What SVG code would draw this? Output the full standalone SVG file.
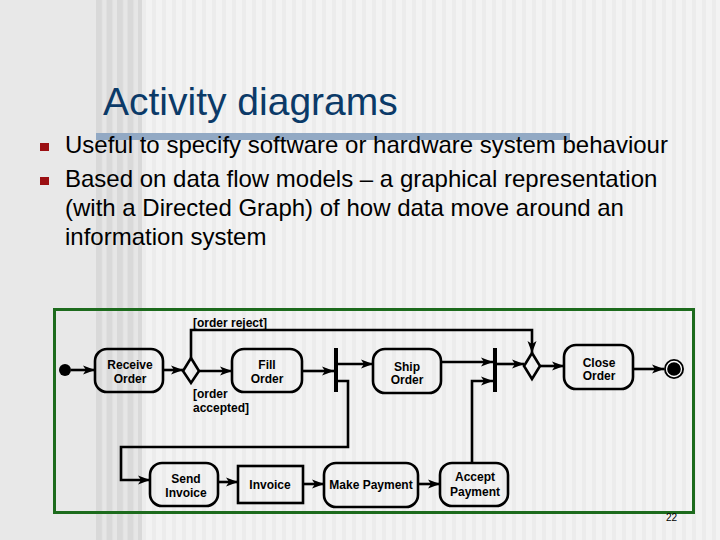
<svg xmlns="http://www.w3.org/2000/svg" width="720" height="540" viewBox="0 0 720 540">
<defs>
<pattern id="dark" x="96" y="0" width="10.5" height="10" patternUnits="userSpaceOnUse">
<rect width="10.5" height="10" fill="#e6e6e6"/>
<rect width="6" height="10" fill="#d9d9d9"/>
</pattern>
<pattern id="light" x="142" y="0" width="10" height="10" patternUnits="userSpaceOnUse">
<rect width="10" height="10" fill="#f3f3f3"/>
<rect width="4" height="10" fill="#ececec"/>
</pattern>
<marker id="ah" markerUnits="userSpaceOnUse" markerWidth="13" markerHeight="10" refX="12" refY="5" orient="auto">
<path d="M0,0.5 L12,5 L0,9.5 L3,5 z" fill="#000"/>
</marker>
<style>
.node{fill:none;stroke:#000;stroke-width:2.6}
.conn{fill:none;stroke:#000;stroke-width:2.6}
.lbl{font-family:"Liberation Sans",Arial,sans-serif;font-weight:bold;font-size:12px;fill:#000;text-anchor:middle}
.grd{font-family:"Liberation Sans",Arial,sans-serif;font-weight:bold;font-size:12px;fill:#000}
.bul{font-family:"Liberation Sans",Arial,sans-serif;font-size:24px;fill:#000}
</style>
</defs>
<rect width="720" height="540" fill="#e8e8e8"/>
<rect x="96" y="0" width="46" height="540" fill="url(#dark)"/>
<rect x="142" y="0" width="578" height="540" fill="url(#light)"/>

<text x="103" y="115" font-family="Liberation Sans, Arial, sans-serif" font-size="39" fill="#0b3a68">Activity diagrams</text>
<rect x="96" y="133" width="474" height="7" fill="#92a9c4"/>

<rect x="40" y="143" width="9" height="8" fill="#9b0f12"/>
<rect x="40" y="177" width="9" height="8" fill="#9b0f12"/>
<text class="bul" x="65" y="153">Useful to specify software or hardware system behaviour</text>
<text class="bul" x="65" y="187">Based on data flow models – a graphical representation</text>
<text class="bul" x="65" y="216">(with a Directed Graph) of how data move around an</text>
<text class="bul" x="65" y="245">information system</text>

<rect x="54.5" y="309.5" width="639" height="203" fill="none" stroke="#1d6b1d" stroke-width="3"/>

<g id="connectors">
<path class="conn" d="M71,370 H95" marker-end="url(#ah)"/>
<path class="conn" d="M163,370 H183" marker-end="url(#ah)"/>
<path class="conn" d="M199,371 H232" marker-end="url(#ah)"/>
<path class="conn" d="M302,371 H334" marker-end="url(#ah)"/>
<path class="conn" d="M338,364 H373" marker-end="url(#ah)"/>
<path class="conn" d="M338,381 H348 V447 H121 V480 H150" marker-end="url(#ah)"/>
<path class="conn" d="M218,482 H238" marker-end="url(#ah)"/>
<path class="conn" d="M303,484 H324" marker-end="url(#ah)"/>
<path class="conn" d="M418,484 H440" marker-end="url(#ah)"/>
<path class="conn" d="M472,463 V381 H493" marker-end="url(#ah)"/>
<path class="conn" d="M441,362 H493" marker-end="url(#ah)"/>
<path class="conn" d="M497,364 H524" marker-end="url(#ah)"/>
<path class="conn" d="M191,358 V330 H532 V353" marker-end="url(#ah)"/>
<path class="conn" d="M540,366 H564" marker-end="url(#ah)"/>
<path class="conn" d="M633,369 H664" marker-end="url(#ah)"/>
</g>

<g id="initial"><circle cx="65" cy="370" r="6" fill="#000"/></g>
<g id="receive-order">
<rect class="node" x="95" y="349" width="68" height="43" rx="12"/>
<text class="lbl" x="130" y="369">Receive</text>
<text class="lbl" x="130" y="383">Order</text>
</g>
<g id="decision1"><polygon class="node" points="191,358 199,371 191,383 183,371" fill="#fff"/></g>
<text class="grd" x="193" y="327">[order reject]</text>
<text class="grd" x="193" y="398">[order</text>
<text class="grd" x="193" y="412">accepted]</text>
<g id="fill-order">
<rect class="node" x="232" y="349" width="70" height="43" rx="12"/>
<text class="lbl" x="267" y="369">Fill</text>
<text class="lbl" x="267" y="383">Order</text>
</g>
<g id="fork"><rect x="334" y="348" width="4" height="44" fill="#000"/></g>
<g id="ship-order">
<rect class="node" x="373" y="349" width="68" height="44" rx="12"/>
<text class="lbl" x="407" y="371">Ship</text>
<text class="lbl" x="407" y="384">Order</text>
</g>
<g id="join"><rect x="493" y="348" width="4" height="44" fill="#000"/></g>
<g id="decision2"><polygon class="node" points="532,353 540,366 532,379 524,366"/></g>
<g id="close-order">
<rect class="node" x="564" y="345" width="69" height="44" rx="12"/>
<text class="lbl" x="599" y="367">Close</text>
<text class="lbl" x="599" y="380">Order</text>
</g>
<g id="final">
<circle cx="674" cy="369" r="10" fill="#000"/>
<circle cx="674" cy="369" r="7.5" fill="none" stroke="#fff" stroke-width="1.3"/>
</g>
<g id="send-invoice">
<rect class="node" x="150" y="463" width="68" height="43" rx="12"/>
<text class="lbl" x="186" y="483">Send</text>
<text class="lbl" x="186" y="497">Invoice</text>
</g>
<g id="invoice">
<rect class="node" x="238" y="466" width="65" height="37" fill="#fff"/>
<text class="lbl" x="270" y="489">Invoice</text>
</g>
<g id="make-payment">
<rect class="node" x="324" y="463" width="94" height="44" rx="12"/>
<text class="lbl" x="371" y="489">Make Payment</text>
</g>
<g id="accept-payment">
<rect class="node" x="440" y="463" width="68" height="43" rx="12"/>
<text class="lbl" x="475" y="481">Accept</text>
<text class="lbl" x="475" y="496">Payment</text>
</g>
<text x="666" y="521" font-family="Liberation Sans, Arial, sans-serif" font-size="10" fill="#000">22</text>
</svg>
